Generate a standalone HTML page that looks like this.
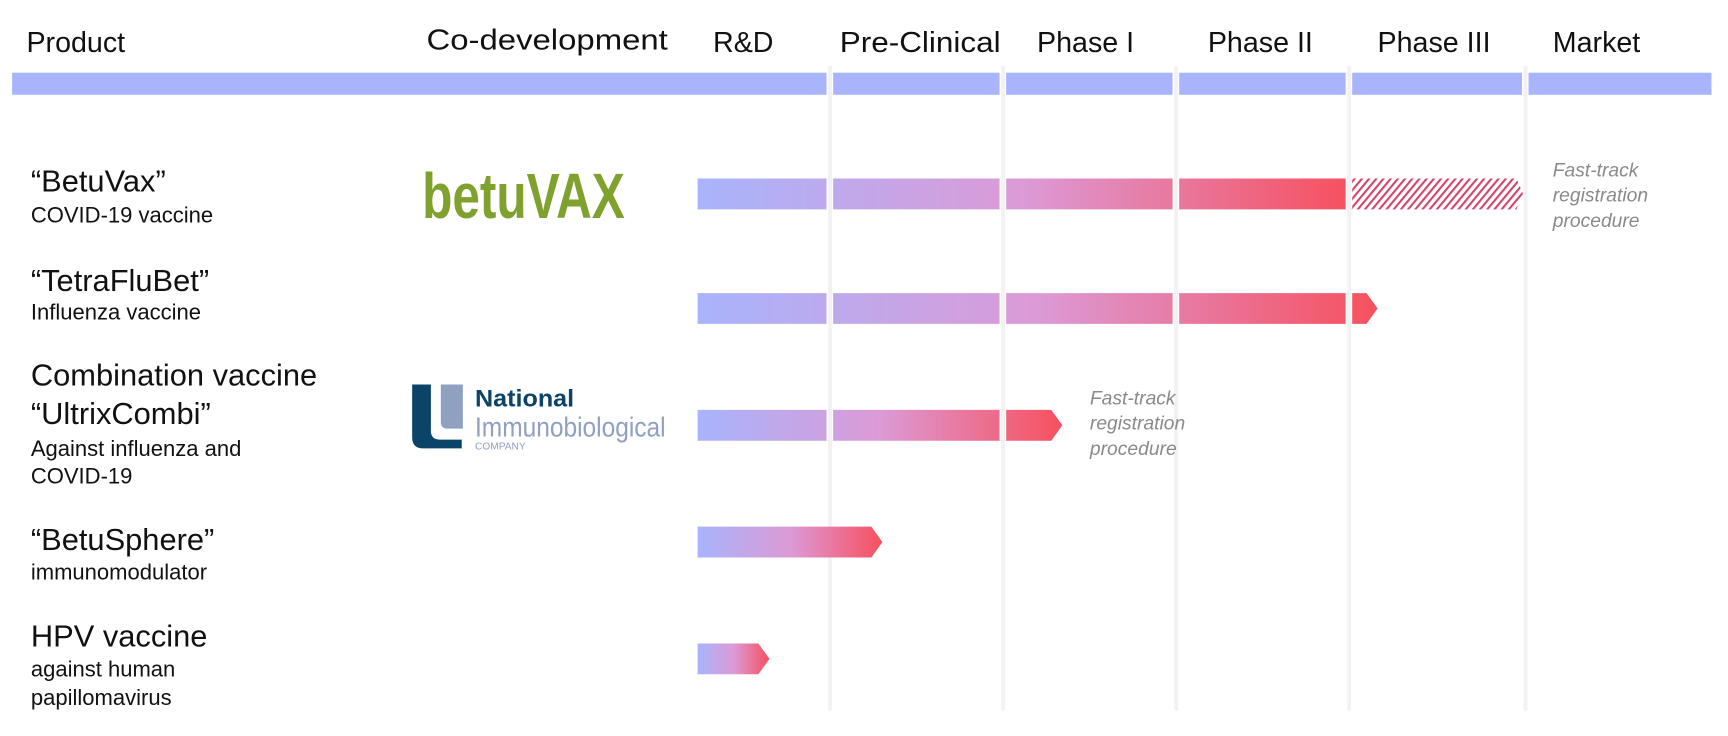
<!DOCTYPE html>
<html><head><meta charset="utf-8"><style>
html,body{margin:0;padding:0;background:#fff;}
svg{display:block;font-family:"Liberation Sans",sans-serif;}
</style></head><body>
<svg id="chart" width="1728" height="736" viewBox="0 0 1568 668" preserveAspectRatio="none" xmlns="http://www.w3.org/2000/svg">
<defs>
<pattern id="hatch" patternUnits="userSpaceOnUse" width="5" height="5" patternTransform="rotate(40)">
<rect width="5" height="5" fill="#fff"/><rect width="1.9" height="5" fill="#d2456a"/>
</pattern>
</defs>
<g id="header" font-size="26" fill="#111">
<text x="24" y="47">Product</text>
<text x="387" y="45" textLength="219" lengthAdjust="spacingAndGlyphs">Co-development</text>
<text x="647" y="47">R&amp;D</text>
<text x="762" y="47" textLength="146" lengthAdjust="spacingAndGlyphs">Pre-Clinical</text>
<text x="941" y="47">Phase I</text>
<text x="1096" y="47">Phase II</text>
<text x="1250" y="47">Phase III</text>
<text x="1409" y="47">Market</text>
</g>
<rect x="11" y="66" width="1542" height="20" fill="#a8b4fc"/>
<g id="grid"></g>
<g id="bars"></g>
<g id="labels" fill="#111">
<g><text x="28" y="174" font-size="28">“BetuVax”</text><text x="28" y="202" font-size="20">COVID-19 vaccine</text></g>
<g><text x="28" y="264" font-size="28">“TetraFluBet”</text><text x="28" y="290" font-size="20">Influenza vaccine</text></g>
<g><text x="28" y="350" font-size="28">Combination vaccine</text><text x="28" y="385" font-size="28">“UltrixCombi”</text><text x="28" y="414" font-size="20">Against influenza and</text><text x="28" y="439" font-size="20">COVID-19</text></g>
<g><text x="28" y="499" font-size="28">“BetuSphere”</text><text x="28" y="526" font-size="20">immunomodulator</text></g>
<g><text x="28" y="587" font-size="28">HPV vaccine</text><text x="28" y="614" font-size="20">against human</text><text x="28" y="640" font-size="20">papillomavirus</text></g>
</g>
<g font-size="17.5" font-style="italic" fill="#8a8a8a"><text x="1409" y="160">Fast-track</text><text x="1409" y="183">registration</text><text x="1409" y="206">procedure</text></g>
<g font-size="17.5" font-style="italic" fill="#8a8a8a"><text x="989" y="367">Fast-track</text><text x="989" y="390">registration</text><text x="989" y="413">procedure</text></g>
<g><text x="383" y="198" font-size="58" font-weight="bold" fill="#7fa22f" textLength="184" lengthAdjust="spacingAndGlyphs">betuVAX</text></g>
<g>
<path d="M374 349h17v42q0 8 8 8h20v8h-35q-10 0-10-10z" fill="#0b4468"/>
<path d="M400 349h20v40h-14q-6 0-6-6z" fill="#8fa0c0"/>
<text x="431" y="369" font-size="22" font-weight="bold" fill="#0b4468" textLength="90" lengthAdjust="spacingAndGlyphs">National</text>
<text x="431" y="396" font-size="25" fill="#8fa0c0" textLength="173" lengthAdjust="spacingAndGlyphs">Immunobiological</text>
<text x="431" y="408" font-size="9" fill="#8fa0c0" textLength="46" lengthAdjust="spacingAndGlyphs">COMPANY</text>
</g>
</svg>
<script>
const stages = ["R&D","Pre-Clinical","Phase I","Phase II","Phase III","Market"];
const products = ["BetuVax","TetraFluBet","UltrixCombi","BetuSphere","HPV vaccine"];
const progress = [4, 4.1, 2.28, 1.24, 0.46];
const hatched = [1, 0, 0, 0, 0];
const rowY = [162, 266, 372, 478, 584];

const bounds = [633,753,910,1067,1224,1384,1553];
const BAR_H = 28;
const NS = "http://www.w3.org/2000/svg";
function xOf(v){
  const i = Math.max(0, Math.min(bounds.length-2, Math.floor(v)));
  return bounds[i] + (v - i) * (bounds[i+1] - bounds[i]);
}
function mk(tag, attrs, parent){
  const e = document.createElementNS(NS, tag);
  for (const k in attrs) e.setAttribute(k, attrs[k]);
  parent.appendChild(e); return e;
}
const svg = document.getElementById('chart');
const defs = svg.querySelector('defs');
const grid = document.getElementById('grid');
const barsG = document.getElementById('bars');
for (let b = 1; b < bounds.length-1; b++){
  const x = bounds[b];
  const g = mk('rect', {x: x-3, y: 64, width: 6, height: 24, fill: '#fff'}, grid);
  
  
  const l = mk('rect', {x: x-1.5, y: 60, width: 3.5, height: 585, fill: '#f2f2f2'}, grid);
  
  
}
progress.forEach((p, i) => {
  const y = rowY[i];
  const x0 = bounds[0];
  const xEnd = xOf(p);
  const arrow = hatched[i] ? 0 : 10;
  const gid = 'grad' + i;
  const gr = mk('linearGradient', {id: gid, gradientUnits: 'userSpaceOnUse', x1: x0, y1: 0, x2: xEnd + arrow, y2: 0}, defs);
  mk('stop', {offset: '0', 'stop-color': '#a8b4fc'}, gr);
  mk('stop', {offset: '0.5', 'stop-color': '#dc9ad6'}, gr);
  mk('stop', {offset: '1', 'stop-color': '#f7505e'}, gr);
  const pts = arrow ? `${x0},${y} ${xEnd},${y} ${xEnd+arrow},${y+BAR_H/2} ${xEnd},${y+BAR_H} ${x0},${y+BAR_H}`
                    : `${x0},${y} ${xEnd},${y} ${xEnd},${y+BAR_H} ${x0},${y+BAR_H}`;
  const bar = mk('polygon', {points: pts, fill: `url(#${gid})`}, barsG);
  
  
  if (hatched[i]){
    const hs = xEnd, he = xOf(p + hatched[i]) - 2;
    const h = mk('polygon', {points: `${hs+2},${y} ${he-6},${y} ${he},${y+BAR_H/2} ${he-6},${y+BAR_H} ${hs+2},${y+BAR_H}`, fill: 'url(#hatch)'}, barsG);
    
    
  }
  if (p >= 2){
    for (let b = 1; b < bounds.length-1; b++){
      if (b > p) break;
      const gp = mk('rect', {x: bounds[b]-3, y: y, width: 6, height: BAR_H, fill: '#fff'}, barsG);
      
      
      const gl = mk('rect', {x: bounds[b]-1.5, y: y, width: 3.5, height: BAR_H, fill: '#f2f2f2'}, barsG);
      
      
    }
  }
});
</script>
</body></html>
